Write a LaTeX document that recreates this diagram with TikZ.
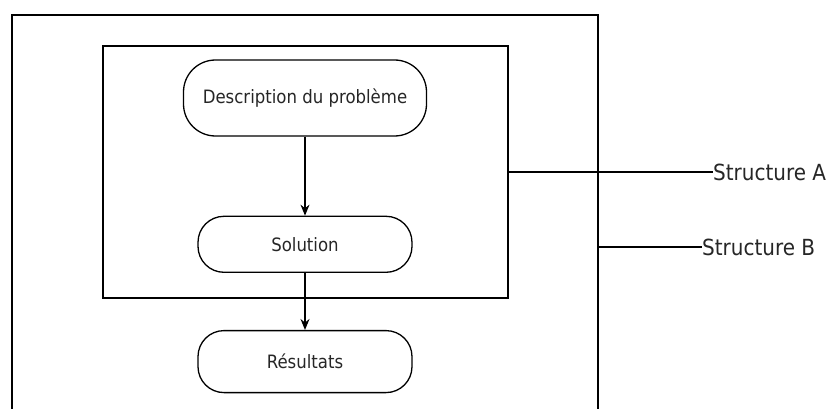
\documentclass[tikz,border=0pt]{standalone}
\usepackage{fontspec}
\setmainfont{DejaVu Sans Condensed}
\usetikzlibrary{arrows.meta, positioning}

\begin{document}
\begin{tikzpicture}[
    x=1pt, y=1pt,
    etape/.style={draw, line width=1.3pt, rounded corners=26pt, minimum width=214pt, minimum height=56pt, text=black!85, font=\fontsize{18.4}{22}\selectfont},
    cadre/.style={draw, line width=1.3pt, inner sep=0pt},
    etiquette/.style={anchor=west, inner sep=0pt, text=black!85, font=\fontsize{22.2}{26}\selectfont},
    arrow/.style={-{Stealth[length=11pt, width=9pt]}, line width=1.3pt}
]
\useasboundingbox (0,0) rectangle (831,408);

% Nodes
\node (desc) [etape, rounded corners=32pt, minimum width=243pt, minimum height=76pt] at (305,310) {Description du problème};
\node (sol) [etape, below=79pt of desc] {Solution};
\node (res) [etape, below=57pt of sol, minimum height=62pt] {Résultats};

% Structures
\node (structA) [cadre, minimum width=405pt, minimum height=252pt] at (305.5,236) {};
\node (structB) [cadre, minimum width=586pt, minimum height=464pt] at (305,161) {};
\node (labelA) [etiquette] at (713,236) {Structure A};
\node (labelB) [etiquette] at (702,161) {Structure B};

% Arrows
\draw[arrow] (desc) -- (sol);
\draw[arrow] (sol) -- (res);
\draw[line width=1.3pt] (structA.east) -- (labelA.west);
\draw[line width=1.3pt] (structB.east) -- (labelB.west);

\end{tikzpicture}
\end{document}
